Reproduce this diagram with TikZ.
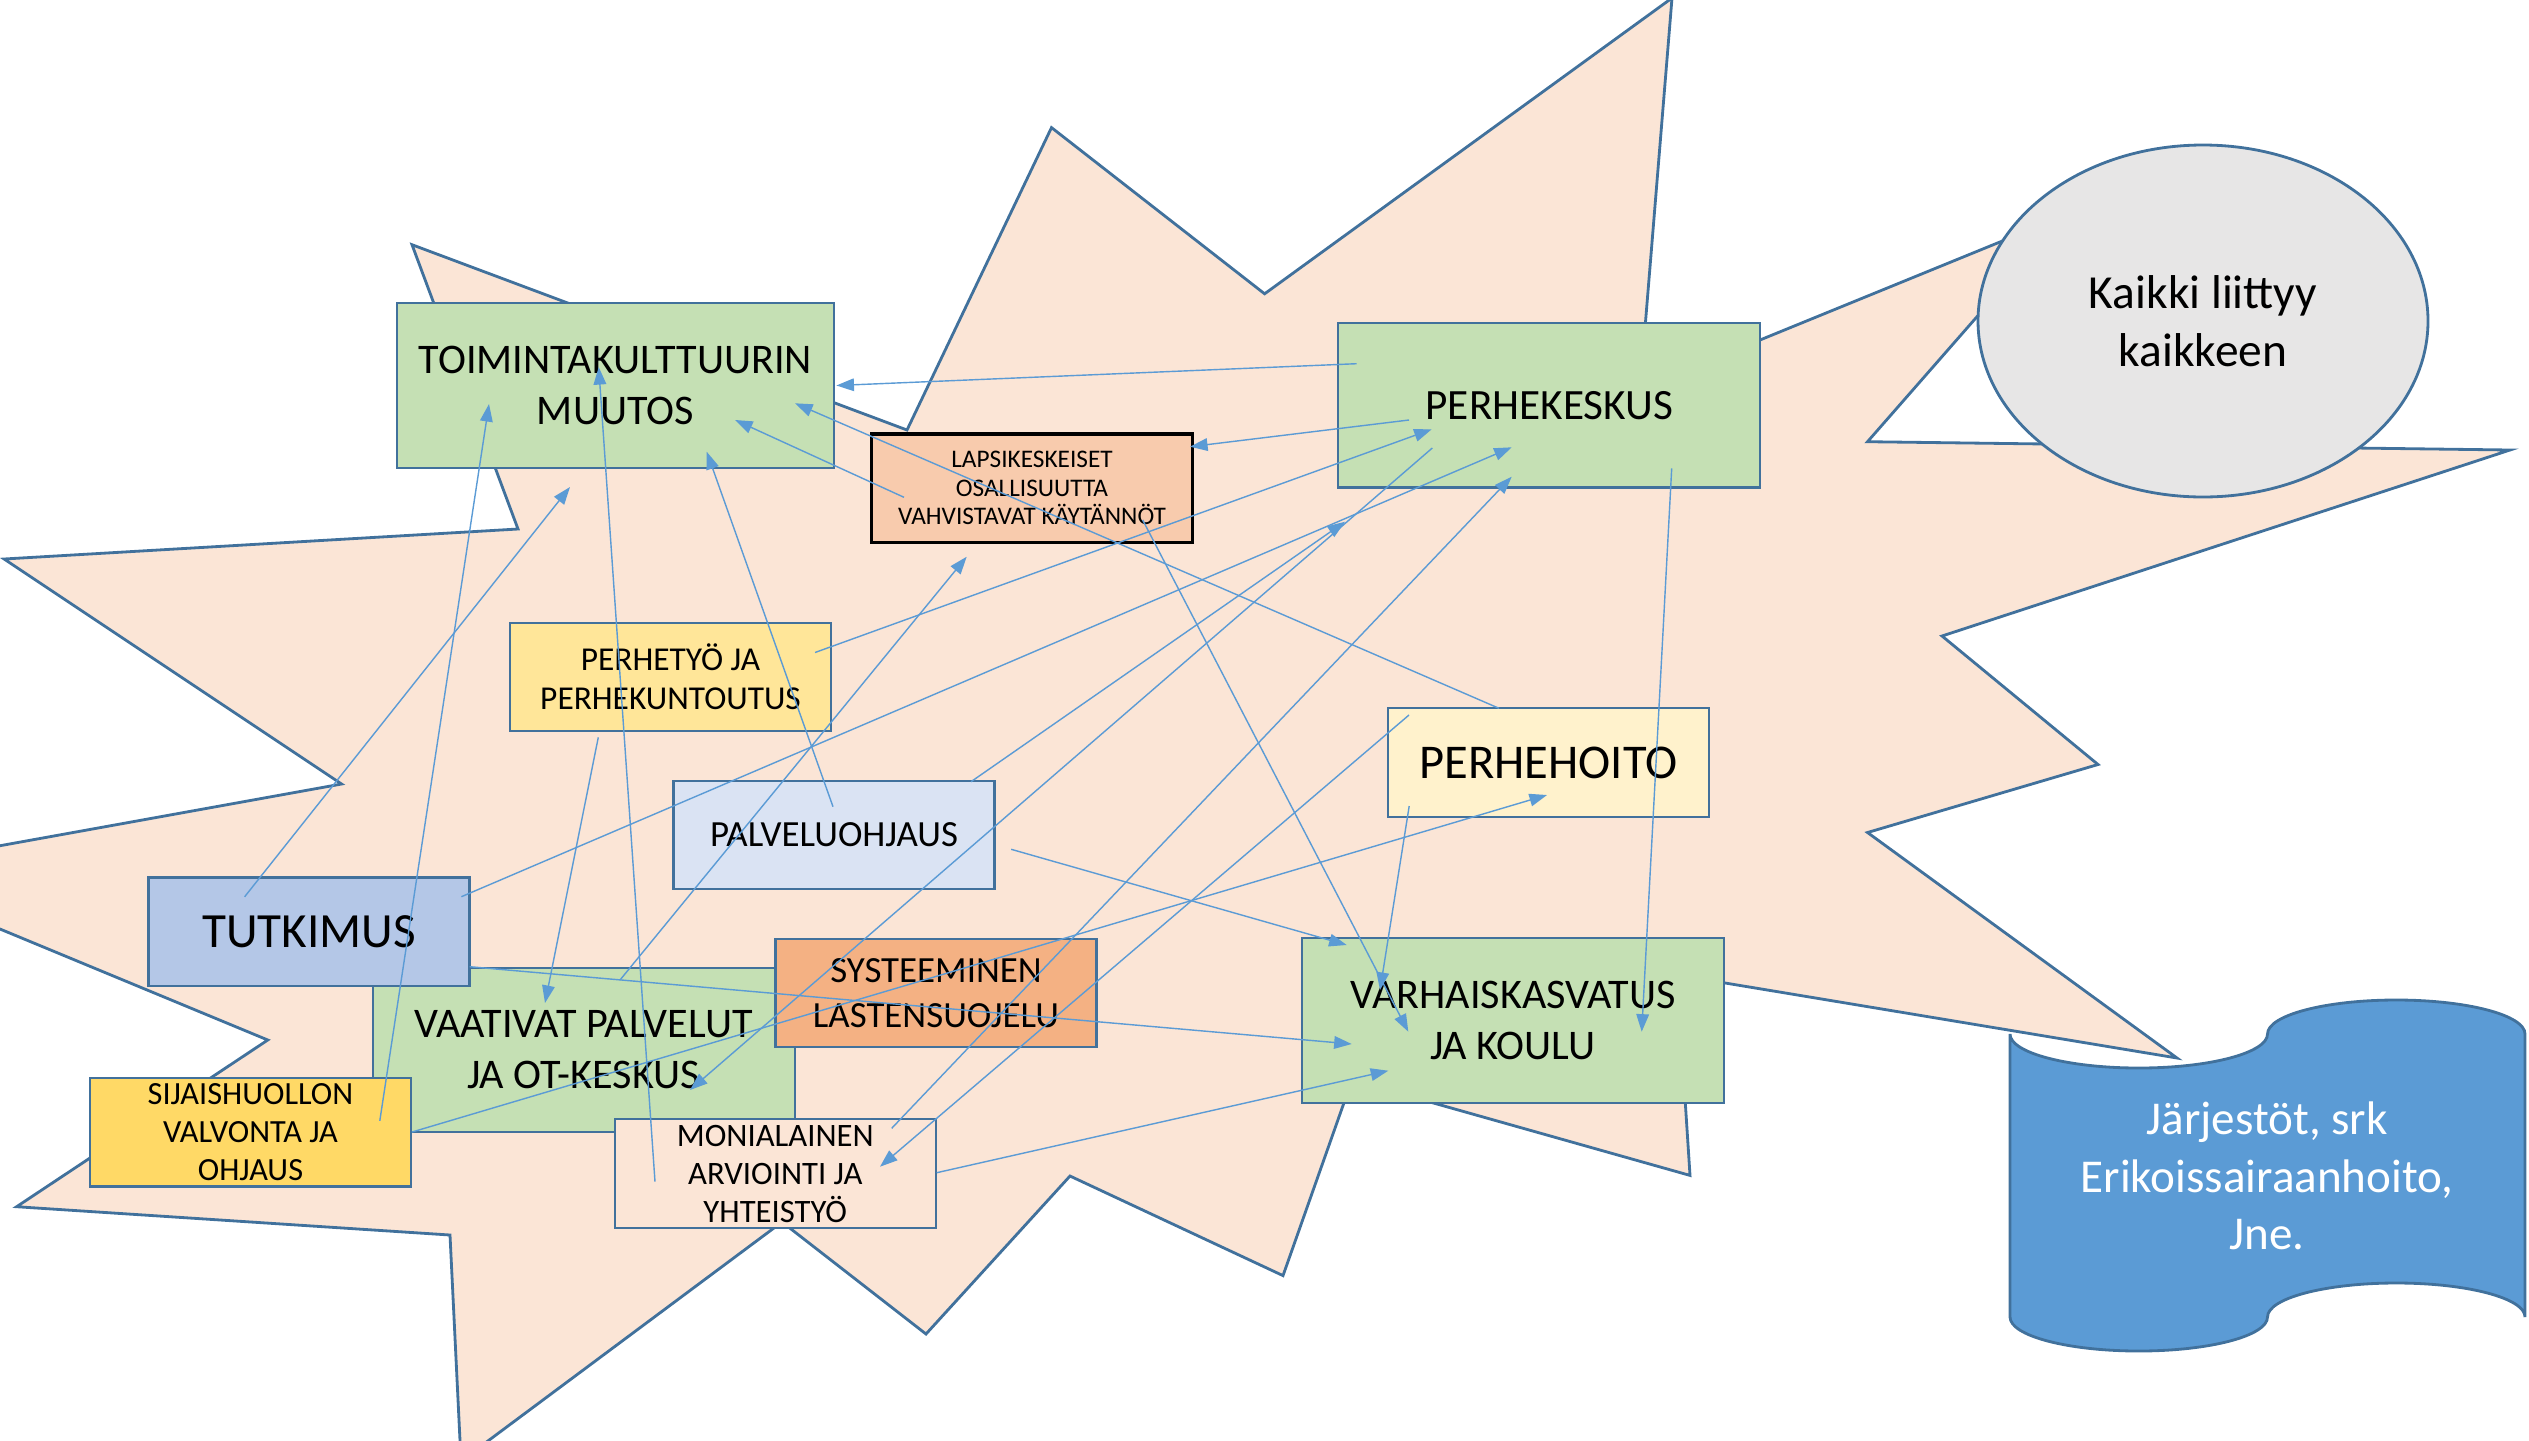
\documentclass[tikz,border=0pt]{standalone}
\usepackage{fontspec}
\setmainfont{Carlito}
\usetikzlibrary{arrows.meta,shapes.geometric}

\definecolor{reuna}{HTML}{41719C}
\definecolor{nuoli}{HTML}{5B9BD5}
\definecolor{tahti}{HTML}{FBE5D6}
\definecolor{vihrea}{HTML}{C5E0B4}
\definecolor{persikka}{HTML}{F8CBAD}
\definecolor{keltainen}{HTML}{FFE699}
\definecolor{vaalea}{HTML}{FFF2CC}
\definecolor{sininen}{HTML}{DAE3F3}
\definecolor{tsininen}{HTML}{B4C7E7}
\definecolor{oranssi}{HTML}{F4B183}
\definecolor{kulta}{HTML}{FFD966}
\definecolor{harmaa}{HTML}{E7E6E6}

\newcommand{\koko}[2]{\fontsize{#1}{#2}\selectfont}

\tikzset{
  laatikko/.style={draw=reuna, line width=0.6pt, minimum width=3.21cm,
    minimum height=1.085cm, inner sep=0pt, align=center},
  iso/.style={laatikko, minimum width=4.22cm, minimum height=1.645cm},
  nuolet/.style={draw=nuoli, line width=0.4pt, -{Triangle[length=5pt,width=3.6pt]}}
}

\begin{document}
\begin{tikzpicture}
    \useasboundingbox (0,0) rectangle (25.29,-14.40);
    \clip (0,0) rectangle (25.29,-14.40);

    % Tähti
    \draw[reuna, line width=0.8pt, fill=tahti]
      (16.72,0.02) -- (16.40,-3.89) -- (20.66,-2.15) -- (18.675,-4.417)
      -- (25.10,-4.50) -- (19.42,-6.36) -- (20.98,-7.645) -- (18.675,-8.325)
      -- (21.77,-10.58) -- (16.77,-9.75) -- (16.90,-11.754) -- (13.52,-10.80)
      -- (12.83,-12.756) -- (10.70,-11.76) -- (9.26,-13.34) -- (7.82,-12.22)
      -- (4.61,-14.61) -- (4.50,-12.35) -- (0.166,-12.067) -- (2.678,-10.40)
      -- (-1.40,-8.71) -- (3.416,-7.84) -- (0.041,-5.59) -- (5.18,-5.29)
      -- (4.12,-2.447) -- (9.07,-4.30) -- (10.515,-1.276) -- (12.646,-2.938)
      -- cycle;

    % Laatikot
    \node[iso, fill=vihrea, font=\koko{12}{14.4}] (vp) at (5.836,-10.499) {VAATIVAT PALVELUT\\JA OT-KESKUS};
    \node[iso, minimum width=4.37cm, fill=vihrea, font=\koko{12}{14.4}] (tk) at (6.154,-3.855) {TOIMINTAKULTTUURIN\\MUUTOS};
    \node[iso, fill=vihrea, font=\koko{12.3}{14.4}] (pk) at (15.493,-4.052) {PERHEKESKUS};
    \node[laatikko, draw=black, line width=1pt, fill=persikka, font=\koko{7.2}{8.2}] (lk) at (10.32,-4.88) {LAPSIKESKEISET\\OSALLISUUTTA\\VAHVISTAVAT KÄYTÄNNÖT};
    \node[laatikko, fill=keltainen, font=\koko{9.5}{10.9}] (pt) at (6.705,-6.768) {PERHETYÖ JA\\PERHEKUNTOUTUS};
    \node[laatikko, fill=vaalea, font=\koko{13.8}{16}] (ph) at (15.486,-7.625) {PERHEHOITO};
    \node[laatikko, fill=sininen, font=\koko{10.5}{12}] (po) at (8.34,-8.35) {PALVELUOHJAUS};
    \node[laatikko, fill=tsininen, font=\koko{14}{16}] (tu) at (3.09,-9.317) {TUTKIMUS};
    \node[laatikko, fill=oranssi, font=\koko{10.5}{12.8}] (sl) at (9.36,-9.93) {SYSTEEMINEN\\LASTENSUOJELU};
    \node[iso, fill=vihrea, font=\koko{12}{14.7}] (vk) at (15.128,-10.206) {VARHAISKASVATUS\\JA KOULU};
    \node[laatikko, fill=kulta, font=\koko{9.2}{10.8}] (sh) at (2.505,-11.322) {SIJAISHUOLLON\\VALVONTA JA\\OHJAUS};
    \node[laatikko, fill=tahti, font=\koko{9.3}{10.8}] (ma) at (7.753,-11.736) {MONIALAINEN\\ARVIOINTI JA\\YHTEISTYÖ};

    % Soikio ja kääröt
    \node[ellipse, draw=reuna, line width=0.8pt, fill=harmaa, minimum width=4.5cm,
      minimum height=3.52cm, inner sep=0pt, align=center, font=\koko{13.5}{16.6}] (kk) at (22.03,-3.21) {Kaikki liittyy\\kaikkeen};
    \draw[reuna, line width=0.8pt, fill=nuoli] (20.10,-10.34)
      arc[start angle=180, end angle=360, x radius=1.2875, y radius=0.34]
      arc[start angle=180, end angle=0, x radius=1.2875, y radius=0.34]
      -- (25.25,-13.17)
      arc[start angle=0, end angle=180, x radius=1.2875, y radius=0.34]
      arc[start angle=0, end angle=-180, x radius=1.2875, y radius=0.34]
      -- cycle;
    \node[text=white, align=center, font=\koko{13.4}{16.3}] (jr) at (22.67,-11.76) {Järjestöt, srk\\Erikoissairaanhoito,\\Jne.};

    % Nuolet
    \draw[nuolet] ([shift={(-1.926,0.415)}]pk.center) -- ([shift={(2.21,0)}]tk.center);
    \draw[nuolet] ([shift={(-1.403,-0.148)}]pk.center) -- ([shift={(1.58,0.413)}]lk.center);
    \draw[nuolet] ([shift={(-1.28,-0.093)}]lk.center) -- ([shift={(1.196,-0.345)}]tk.center);
    \draw[nuolet] ([shift={(-0.496,0.542)}]ph.center) -- ([shift={(1.796,-0.178)}]tk.center);
    \draw[nuolet] ([shift={(-0.01,0.283)}]po.center) -- ([shift={(0.913,-0.662)}]tk.center);
    \draw[nuolet] ([shift={(-0.644,0.349)}]tu.center) -- ([shift={(-0.454,-1.015)}]tk.center);
    \draw[nuolet] ([shift={(1.293,0.114)}]sh.center) -- ([shift={(-1.264,-0.185)}]tk.center);
    \draw[nuolet] ([shift={(-1.203,-0.081)}]ma.center) -- ([shift={(-0.167,0.185)}]tk.center);
    \draw[nuolet] ([shift={(-0.722,-0.605)}]pt.center) -- ([shift={(-0.386,0.469)}]vp.center);
    \draw[nuolet] ([shift={(0.364,0.699)}]vp.center) -- ([shift={(-0.653,-0.687)}]lk.center);
    \draw[nuolet] ([shift={(1.445,0.243)}]pt.center) -- ([shift={(-1.176,-0.241)}]pk.center);
    \draw[nuolet] ([shift={(1.615,0.002)}]sh.center) -- ([shift={(-0.016,-0.325)}]ph.center);
    \draw[nuolet] ([shift={(1.524,0.35)}]tu.center) -- ([shift={(-0.376,-0.421)}]pk.center);
    \draw[nuolet] ([shift={(1.37,0.533)}]po.center) -- ([shift={(-2.043,-1.165)}]pk.center);
    \draw[nuolet] ([shift={(-1.17,-0.428)}]pk.center) -- ([shift={(1.064,-0.401)}]vp.center);
    \draw[nuolet] ([shift={(1.164,0.453)}]ma.center) -- ([shift={(-0.376,-0.715)}]pk.center);
    \draw[nuolet] ([shift={(-1.396,0.475)}]ph.center) -- ([shift={(1.047,0.069)}]ma.center);
    \draw[nuolet] ([shift={(-1.394,-0.435)}]ph.center) -- ([shift={(-1.328,0.306)}]vk.center);
    \draw[nuolet] ([shift={(1.772,-0.143)}]po.center) -- ([shift={(-1.661,0.756)}]vk.center);
    \draw[nuolet] ([shift={(1.107,-0.32)}]lk.center) -- ([shift={(-1.045,-0.111)}]vk.center);
    \draw[nuolet] ([shift={(1.224,-0.631)}]pk.center) -- ([shift={(1.289,-0.111)}]vk.center);
    \draw[nuolet] ([shift={(1.607,-0.35)}]tu.center) -- ([shift={(-1.611,-0.234)}]vk.center);
    \draw[nuolet] ([shift={(1.614,0.009)}]ma.center) -- ([shift={(-1.245,-0.501)}]vk.center);
\end{tikzpicture}
\end{document}
